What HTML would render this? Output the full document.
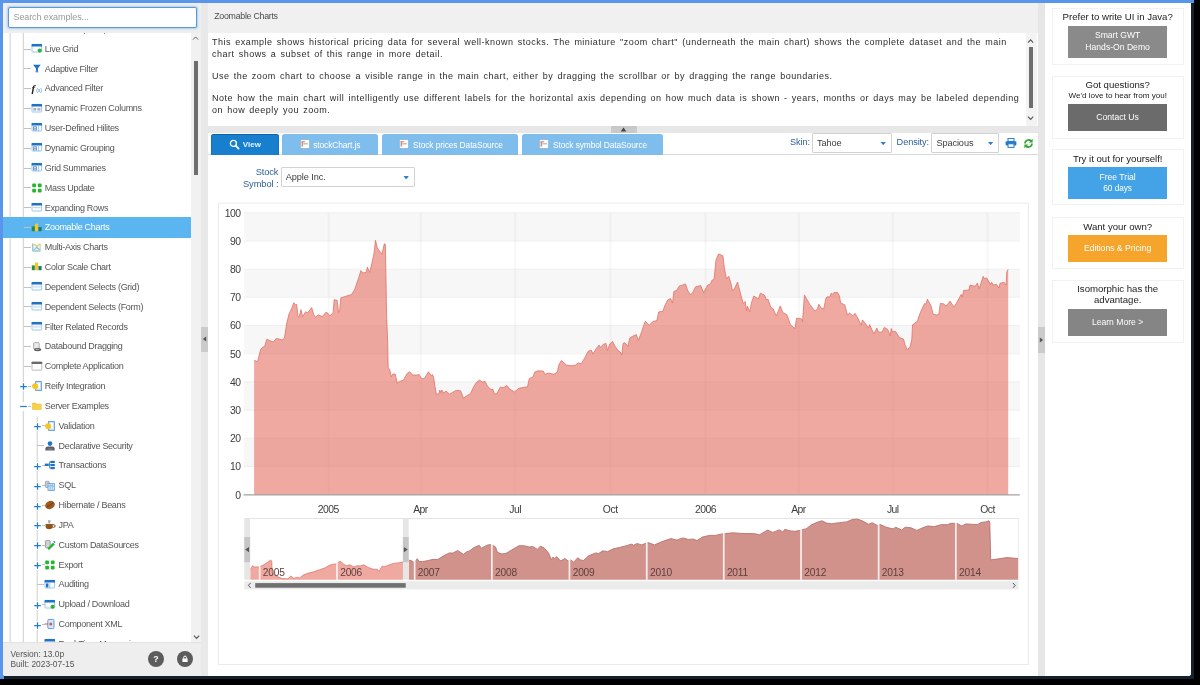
<!DOCTYPE html>
<html><head><meta charset="utf-8"><title>Zoomable Charts</title>
<style>
*{box-sizing:border-box;margin:0;padding:0}
html,body{width:1200px;height:685px;overflow:hidden;background:#000;font-family:"Liberation Sans",sans-serif;}
#frame{position:absolute;left:0;top:0;width:1200px;height:685px;background:#000;overflow:hidden}
#blue{position:absolute;left:0;top:0;width:1194px;height:679px;background:#5a95ec}
#navy{position:absolute;left:4px;top:3px;width:1190px;height:676px;background:#16212f}
#app{position:absolute;left:3px;top:3px;width:1188px;height:673px;background:#fff;overflow:hidden;border-radius:0 0 3px 3px;will-change:transform}
.abs{position:absolute}
/* left */
#left{position:absolute;left:0;top:0;width:198px;height:673px;background:#fff}
#searchbar{position:absolute;left:0;top:0;width:198px;height:29.5px;background:#efefef}
#search{position:absolute;left:5px;top:4px;width:188.5px;height:20.5px;background:#fff;border:1px solid #5b9bd3;border-radius:2px;box-shadow:0 0 2px 1px rgba(120,185,240,0.6);}
#search span{position:absolute;left:4.5px;top:4px;font-size:9px;color:#9a9a9a;letter-spacing:-0.1px}
#tree{position:absolute;left:0;top:29.5px;width:188px;height:609.3px;overflow:hidden;background:#fff}
.vl{position:absolute;width:1px;background:#cfcfcf}
.hl{position:absolute;height:1px;background:#c2c2c2}
.sel{position:absolute;left:0;width:188px;height:20.4px;background:#5bb5f0}
.op{position:absolute;background:#fff}
.ic{position:absolute}
.tl{position:absolute;font-size:9px;line-height:12px;color:#555;white-space:nowrap;letter-spacing:-0.3px}
.tl.w{color:#fff}
#tsb{position:absolute;left:188px;top:29.5px;width:10px;height:610px;background:#f1f1f1}
#tthumb{position:absolute;left:3.1px;top:28.5px;width:4.2px;height:114px;background:#6e6e6e}
#lfoot{position:absolute;left:0;top:638.8px;width:198px;height:34.2px;background:#eeeeee;border-top:1px solid #e2e2e2}
#lfoot .v{position:absolute;left:7.5px;font-size:8.4px;color:#555;white-space:nowrap}
.circ{position:absolute;width:16px;height:16px;border-radius:8px;background:#5c5c5c}
/* splitters */
#sp1{position:absolute;left:198px;top:0;width:7px;height:673px;background:#e9e9e9}
#sp2{position:absolute;left:1035px;top:0;width:7px;height:673px;background:#e6e6e6}
/* middle */
#mid{position:absolute;left:205px;top:0;width:830px;height:673px;background:#fff}
#mhead{position:absolute;left:0;top:0;width:830px;height:29.5px;background:#f0f0f0}
#mhead span{position:absolute;left:6.2px;top:8px;font-size:8.8px;color:#4a4a4a;white-space:nowrap;letter-spacing:-0.26px}
#desc{position:absolute;left:0;top:29.5px;width:830px;height:94px;background:#fff;color:#2c2c2c;font-size:9px;letter-spacing:0.49px;word-spacing:1.2px;line-height:12.7px;white-space:nowrap}
#desc p{position:absolute;left:4px}
#hsp{position:absolute;left:0;top:123px;width:830px;height:6.5px;background:#e7e7e7}
#hgrip{position:absolute;left:402.6px;top:0;width:26px;height:6.5px;background:#c9c9c9}
.tab{position:absolute;top:131px;height:20.6px;border-radius:2.5px 2.5px 0 0;color:#fff;font-size:8.4px;white-space:nowrap}
.tab span{position:absolute;top:5.6px;letter-spacing:-0.1px}
#tabline{position:absolute;left:0;top:151.3px;width:830px;height:1px;background:#d9d9d9}
.lbl{position:absolute;font-size:9.2px;color:#2c5f9a;white-space:nowrap;letter-spacing:-0.1px}
.selbox{position:absolute;height:19.4px;border:1px solid #d2d2d2;background:#fff;border-radius:1px}
.selbox span{position:absolute;left:4px;top:4px;font-size:9.2px;color:#3c3c3c;white-space:nowrap;letter-spacing:-0.1px}
.selbox i{position:absolute;right:4.6px;top:7.5px;width:5.6px;height:3.6px;background:#2a7fd0;clip-path:polygon(0 0,100% 0,50% 100%)}
/* right */
#right{position:absolute;left:1042px;top:0;width:146px;height:673px;background:#fff}
.card{position:absolute;left:6.5px;width:132.4px;border:1px solid #f1f1f1;background:#fff}
.card .t{position:absolute;left:0;width:100%;text-align:center;color:#222;font-size:9.65px;white-space:nowrap;letter-spacing:-0.02px}
.card .s{position:absolute;left:0;width:100%;text-align:center;color:#222;font-size:8.1px;white-space:nowrap}
.btn{position:absolute;left:15.6px;width:99px;color:#fff;font-size:8.6px;text-align:center;white-space:nowrap}
.btn span{position:absolute;left:0;width:100%;text-align:center}
svg.chart{position:absolute;left:-3px;top:-3px}
.ax{font-family:"Liberation Sans",sans-serif;font-size:10.4px;fill:#3c3c3c;letter-spacing:-0.5px}
.mx{font-family:"Liberation Sans",sans-serif;font-size:10.2px;fill:#5b3f3c;letter-spacing:-0.2px}
</style></head><body>
<div id="frame"><div id="blue"></div><div id="navy"></div>
<div id="app">
 <div id="left">
  <div id="searchbar"><div id="search"><span>Search examples...</span></div></div>
  <div id="tree">
   <svg class="abs" style="left:0;top:0" width="60" height="610" viewBox="0 0 60 610"><path d="M7.1 0V610M20.3 0V610M34.2 383.5V610" stroke="#cdcdcd" stroke-width="1" fill="none"/></svg>
<div class="hl" style="left:20.5px;top:-3.84px;width:7.2px"></div>
<svg class="ic" style="left:27.7px;top:-10.24px" width="12" height="12" viewBox="0 0 12 12"><rect x="1" y="2.4" width="9.6" height="7.6" rx="0.6" fill="#fff" stroke="#8fc0ea" stroke-width="0.9"/><rect x="0.6" y="1.9" width="10.4" height="2.7" rx="0.5" fill="#1f72c8"/><rect x="2.3" y="6" width="3" height="2.6" fill="#a9b4c0"/><rect x="6.4" y="6" width="3" height="2.6" fill="#a9b4c0"/></svg>
<div class="tl" style="left:41.8px;top:-9.54px"></div>
<div class="hl" style="left:20.5px;top:16.00px;width:7.2px"></div>
<svg class="ic" style="left:27.7px;top:9.60px" width="12" height="12" viewBox="0 0 12 12"><rect x="1" y="2.4" width="9.6" height="7.6" rx="0.6" fill="#fff" stroke="#8fc0ea" stroke-width="0.9"/><rect x="0.6" y="1.9" width="10.4" height="2.7" rx="0.5" fill="#1f72c8"/><circle cx="8.6" cy="8.6" r="2" fill="#27b52f"/></svg>
<div class="tl" style="left:41.8px;top:10.30px">Live Grid</div>
<div class="hl" style="left:20.5px;top:35.84px;width:7.2px"></div>
<svg class="ic" style="left:27.7px;top:29.44px" width="12" height="12" viewBox="0 0 12 12"><path d="M2 2.8H9.8L6.9 6.2V9.4L4.9 8.6V6.2Z" fill="#1f72c8"/><rect x="4.6" y="9.2" width="2.6" height="1.1" fill="#1f72c8"/></svg>
<div class="tl" style="left:41.8px;top:30.14px">Adaptive Filter</div>
<div class="hl" style="left:20.5px;top:55.68px;width:7.2px"></div>
<svg class="ic" style="left:27.7px;top:49.28px" width="12" height="12" viewBox="0 0 12 12"><text x="0.6" y="9.6" font-family="Liberation Serif" font-style="italic" font-weight="bold" font-size="11" fill="#222">f</text><text x="5.2" y="9.8" font-family="Liberation Sans" font-size="5" fill="#2f7fd0">(x)</text></svg>
<div class="tl" style="left:41.8px;top:49.98px">Advanced Filter</div>
<div class="hl" style="left:20.5px;top:75.52px;width:7.2px"></div>
<svg class="ic" style="left:27.7px;top:69.12px" width="12" height="12" viewBox="0 0 12 12"><rect x="1" y="2.4" width="9.6" height="7.6" rx="0.6" fill="#fff" stroke="#8fc0ea" stroke-width="0.9"/><rect x="0.6" y="1.9" width="10.4" height="2.7" rx="0.5" fill="#1f72c8"/><rect x="2.3" y="6" width="3" height="2.6" fill="#a9b4c0"/><rect x="6.4" y="6" width="3" height="2.6" fill="#a9b4c0"/></svg>
<div class="tl" style="left:41.8px;top:69.82px">Dynamic Frozen Columns</div>
<div class="hl" style="left:20.5px;top:95.36px;width:7.2px"></div>
<svg class="ic" style="left:27.7px;top:88.96px" width="12" height="12" viewBox="0 0 12 12"><rect x="1" y="2.4" width="9.6" height="7.6" rx="0.6" fill="#fff" stroke="#8fc0ea" stroke-width="0.9"/><rect x="0.6" y="1.9" width="10.4" height="2.7" rx="0.5" fill="#1f72c8"/><rect x="2.4" y="5.8" width="3.2" height="3.2" fill="none" stroke="#5f87b5" stroke-width="0.8"/><rect x="3.4" y="6.8" width="1.3" height="1.3" fill="#5f87b5"/><rect x="7.2" y="4.3" width="0.9" height="6" fill="#8fc0ea"/></svg>
<div class="tl" style="left:41.8px;top:89.66px">User-Defined Hilites</div>
<div class="hl" style="left:20.5px;top:115.20px;width:7.2px"></div>
<svg class="ic" style="left:27.7px;top:108.80px" width="12" height="12" viewBox="0 0 12 12"><rect x="1" y="2.4" width="9.6" height="7.6" rx="0.6" fill="#fff" stroke="#8fc0ea" stroke-width="0.9"/><rect x="0.6" y="1.9" width="10.4" height="2.7" rx="0.5" fill="#1f72c8"/><rect x="2.4" y="5.8" width="3.2" height="3.2" fill="none" stroke="#5f87b5" stroke-width="0.8"/><rect x="3.4" y="6.8" width="1.3" height="1.3" fill="#5f87b5"/><rect x="7.2" y="4.3" width="0.9" height="6" fill="#8fc0ea"/></svg>
<div class="tl" style="left:41.8px;top:109.50px">Dynamic Grouping</div>
<div class="hl" style="left:20.5px;top:135.04px;width:7.2px"></div>
<svg class="ic" style="left:27.7px;top:128.64px" width="12" height="12" viewBox="0 0 12 12"><rect x="1" y="2.4" width="9.6" height="7.6" rx="0.6" fill="#fff" stroke="#8fc0ea" stroke-width="0.9"/><rect x="0.6" y="1.9" width="10.4" height="2.7" rx="0.5" fill="#1f72c8"/><rect x="2.4" y="5.8" width="3.2" height="3.2" fill="none" stroke="#5f87b5" stroke-width="0.8"/><rect x="3.4" y="6.8" width="1.3" height="1.3" fill="#5f87b5"/><rect x="7.2" y="4.3" width="0.9" height="6" fill="#8fc0ea"/></svg>
<div class="tl" style="left:41.8px;top:129.34px">Grid Summaries</div>
<div class="hl" style="left:20.5px;top:154.88px;width:7.2px"></div>
<svg class="ic" style="left:27.7px;top:149.08px" width="12" height="12" viewBox="0 0 12 12"><rect x="1.2" y="1.6" width="3.8" height="3.6" rx="1" fill="#27b52f"/><rect x="6.8" y="1.6" width="3.8" height="3.6" rx="1" fill="#27b52f"/><rect x="1.2" y="6.8" width="3.8" height="3.6" rx="1" fill="#27b52f"/><rect x="6.8" y="6.8" width="3.8" height="3.6" rx="1" fill="#27b52f"/></svg>
<div class="tl" style="left:41.8px;top:149.18px">Mass Update</div>
<div class="hl" style="left:20.5px;top:174.72px;width:7.2px"></div>
<svg class="ic" style="left:27.7px;top:168.32px" width="12" height="12" viewBox="0 0 12 12"><rect x="1" y="2.4" width="9.6" height="7.6" rx="0.6" fill="#fff" stroke="#8fc0ea" stroke-width="0.9"/><rect x="0.6" y="1.9" width="10.4" height="2.7" rx="0.5" fill="#1f72c8"/><rect x="2.2" y="6" width="7.4" height="1.2" fill="#c9d6e4"/></svg>
<div class="tl" style="left:41.8px;top:169.02px">Expanding Rows</div>
<div class="sel" style="top:184.84px"></div>
<div class="hl" style="left:20.5px;top:194.56px;width:7.2px"></div>
<svg class="ic" style="left:27.7px;top:188.16px" width="12" height="12" viewBox="0 0 12 12"><rect x="0.8" y="5.4" width="3" height="4.8" fill="#2a8a4a"/><rect x="4" y="2.6" width="3.2" height="7.6" fill="#f0c92c"/><rect x="7.4" y="6" width="3.2" height="4.2" fill="#1d7a6b"/></svg>
<div class="tl w" style="left:41.8px;top:188.86px">Zoomable Charts</div>
<div class="hl" style="left:20.5px;top:214.40px;width:7.2px"></div>
<svg class="ic" style="left:27.7px;top:208.00px" width="12" height="12" viewBox="0 0 12 12"><rect x="1.4" y="2.4" width="8.2" height="8" fill="#f4f8f4"/><path d="M1.8 2.4V10H9.6" fill="none" stroke="#6fb0c4" stroke-width="1"/><path d="M3 3.4L6 5.4L8.8 3" fill="none" stroke="#e6d05c" stroke-width="1.3"/><path d="M3.2 8.6L5.6 6.4L8.8 8.8" fill="none" stroke="#8db7e6" stroke-width="1.2"/><path d="M9.2 3V9.6" stroke="#b9c9a0" stroke-width="0.9"/></svg>
<div class="tl" style="left:41.8px;top:208.70px">Multi-Axis Charts</div>
<div class="hl" style="left:20.5px;top:234.24px;width:7.2px"></div>
<svg class="ic" style="left:27.7px;top:227.84px" width="12" height="12" viewBox="0 0 12 12"><rect x="0.8" y="5.4" width="3" height="4.8" fill="#2a8a4a"/><rect x="4" y="2.6" width="3.2" height="7.6" fill="#f0c92c"/><rect x="7.4" y="6" width="3.2" height="4.2" fill="#1d7a6b"/></svg>
<div class="tl" style="left:41.8px;top:228.54px">Color Scale Chart</div>
<div class="hl" style="left:20.5px;top:254.08px;width:7.2px"></div>
<svg class="ic" style="left:27.7px;top:247.68px" width="12" height="12" viewBox="0 0 12 12"><rect x="1" y="2.4" width="9.6" height="7.6" rx="0.6" fill="#fff" stroke="#8fc0ea" stroke-width="0.9"/><rect x="0.6" y="1.9" width="10.4" height="2.7" rx="0.5" fill="#1f72c8"/><rect x="1.5" y="5.6" width="8.8" height="2.2" fill="#dfe6ee"/></svg>
<div class="tl" style="left:41.8px;top:248.38px">Dependent Selects (Grid)</div>
<div class="hl" style="left:20.5px;top:273.92px;width:7.2px"></div>
<svg class="ic" style="left:27.7px;top:267.52px" width="12" height="12" viewBox="0 0 12 12"><rect x="1" y="2.4" width="9.6" height="7.6" rx="0.6" fill="#fff" stroke="#8fc0ea" stroke-width="0.9"/><rect x="0.6" y="1.9" width="10.4" height="2.7" rx="0.5" fill="#1f72c8"/><rect x="1.5" y="5.6" width="8.8" height="2.2" fill="#dfe6ee"/></svg>
<div class="tl" style="left:41.8px;top:268.22px">Dependent Selects (Form)</div>
<div class="hl" style="left:20.5px;top:293.76px;width:7.2px"></div>
<svg class="ic" style="left:27.7px;top:287.36px" width="12" height="12" viewBox="0 0 12 12"><rect x="1" y="2.4" width="9.6" height="7.6" rx="0.6" fill="#fff" stroke="#8fc0ea" stroke-width="0.9"/><rect x="0.6" y="1.9" width="10.4" height="2.7" rx="0.5" fill="#1f72c8"/><rect x="1.5" y="5.6" width="8.8" height="2.2" fill="#dfe6ee"/></svg>
<div class="tl" style="left:41.8px;top:288.06px">Filter Related Records</div>
<div class="hl" style="left:20.5px;top:313.60px;width:7.2px"></div>
<svg class="ic" style="left:27.7px;top:308.20px" width="12" height="12" viewBox="0 0 12 12"><rect x="2.6" y="1.6" width="5.6" height="6.4" rx="0.8" fill="#e9e9e9" stroke="#9a9a9a" stroke-width="0.8"/><ellipse cx="6.6" cy="8.6" rx="3.6" ry="1.7" fill="#5a5a5a"/><rect x="4.8" y="8" width="3" height="0.9" fill="#bbb"/></svg>
<div class="tl" style="left:41.8px;top:307.90px">Databound Dragging</div>
<div class="hl" style="left:20.5px;top:333.44px;width:7.2px"></div>
<svg class="ic" style="left:27.7px;top:327.04px" width="12" height="12" viewBox="0 0 12 12"><rect x="1" y="2.2" width="9.8" height="8" rx="0.6" fill="#fff" stroke="#b5b5b5" stroke-width="0.9"/><rect x="0.6" y="1.7" width="10.6" height="2.4" rx="0.5" fill="#6a6a6a"/></svg>
<div class="tl" style="left:41.8px;top:327.74px">Complete Application</div>
<div class="hl" style="left:20.5px;top:353.28px;width:7.7px"></div>
<svg class="op" style="left:16.0px;top:349.98px" width="9" height="9" viewBox="0 0 9 9"><path d="M1.2 4.5H7.8M4.5 1.2V7.8" stroke="#1f7fd6" stroke-width="1.25" fill="none"/></svg>
<svg class="ic" style="left:27.7px;top:347.88px" width="12" height="12" viewBox="0 0 12 12"><rect x="4.6" y="1.6" width="5.8" height="8.8" fill="#cfe2f6" stroke="#5a9ade" stroke-width="0.9"/><rect x="6.4" y="3" width="2.6" height="5.6" fill="#fff"/><path d="M4 3.2L6.8 4.4L7.4 7.2L5 9.4L2 8.6L0.8 6L2 3.8Z" fill="#f6c71e"/></svg>
<div class="tl" style="left:41.8px;top:347.58px">Reify Integration</div>
<div class="hl" style="left:20.5px;top:373.12px;width:7.7px"></div>
<svg class="op" style="left:16.0px;top:369.82px" width="9" height="9" viewBox="0 0 9 9"><path d="M1.2 4.5H7.8" stroke="#1f7fd6" stroke-width="1.25" fill="none"/></svg>
<svg class="ic" style="left:27.7px;top:367.72px" width="12" height="12" viewBox="0 0 12 12"><path d="M1.2 2.8H4.6L5.6 3.8H10.4V9.8H1.2Z" fill="#f3c63c"/><rect x="1.2" y="4.4" width="9.2" height="5.4" fill="#f7d04f"/></svg>
<div class="tl" style="left:41.8px;top:367.42px">Server Examples</div>
<div class="hl" style="left:34.0px;top:392.96px;width:7.6px"></div>
<svg class="op" style="left:29.5px;top:389.66px" width="9" height="9" viewBox="0 0 9 9"><path d="M1.2 4.5H7.8M4.5 1.2V7.8" stroke="#1f7fd6" stroke-width="1.25" fill="none"/></svg>
<svg class="ic" style="left:41.1px;top:387.56px" width="12" height="12" viewBox="0 0 12 12"><rect x="4.6" y="1.6" width="5.8" height="8.8" fill="#cfe2f6" stroke="#5a9ade" stroke-width="0.9"/><rect x="6.4" y="3" width="2.6" height="5.6" fill="#fff"/><path d="M4 3.2L6.8 4.4L7.4 7.2L5 9.4L2 8.6L0.8 6L2 3.8Z" fill="#f6c71e"/></svg>
<div class="tl" style="left:55.5px;top:387.26px">Validation</div>
<div class="hl" style="left:34.0px;top:412.80px;width:7.1px"></div>
<svg class="ic" style="left:41.1px;top:407.40px" width="12" height="12" viewBox="0 0 12 12"><circle cx="6" cy="3.6" r="2.3" fill="#1f72c8"/><path d="M1.4 10.4V8.4Q1.4 6.4 4 6.4H8Q10.6 6.4 10.6 8.4V10.4Z" fill="#5c5c66"/><rect x="3.4" y="8.6" width="5.2" height="0.9" fill="#8c8c96"/></svg>
<div class="tl" style="left:55.5px;top:407.10px">Declarative Security</div>
<div class="hl" style="left:34.0px;top:432.64px;width:7.6px"></div>
<svg class="op" style="left:29.5px;top:429.34px" width="9" height="9" viewBox="0 0 9 9"><path d="M1.2 4.5H7.8M4.5 1.2V7.8" stroke="#1f7fd6" stroke-width="1.25" fill="none"/></svg>
<svg class="ic" style="left:41.1px;top:426.24px" width="12" height="12" viewBox="0 0 12 12"><rect x="0.8" y="4.6" width="4" height="2.4" fill="#1f72c8"/><rect x="6.4" y="1.8" width="4.4" height="2.2" fill="#1f72c8"/><rect x="6.4" y="4.9" width="4.4" height="2.2" fill="#1f72c8"/><rect x="6.4" y="8" width="4.4" height="2.2" fill="#1f72c8"/><path d="M4.8 5.8H6.4M5.6 2.9V9.1M5.6 2.9H6.4M5.6 9.1H6.4" stroke="#1f72c8" stroke-width="0.8" fill="none"/></svg>
<div class="tl" style="left:55.5px;top:426.94px">Transactions</div>
<div class="hl" style="left:34.0px;top:452.48px;width:7.6px"></div>
<svg class="op" style="left:29.5px;top:449.18px" width="9" height="9" viewBox="0 0 9 9"><path d="M1.2 4.5H7.8M4.5 1.2V7.8" stroke="#1f7fd6" stroke-width="1.25" fill="none"/></svg>
<svg class="ic" style="left:41.1px;top:447.08px" width="12" height="12" viewBox="0 0 12 12"><rect x="1.4" y="1.4" width="3.8" height="6" rx="0.8" fill="#c9ced6" stroke="#8d96a3" stroke-width="0.8"/><rect x="4" y="3.6" width="6.4" height="6.8" fill="#d6e8f8" stroke="#6aa5de" stroke-width="0.9"/><path d="M6.2 3.6V10.4M8.3 3.6V10.4M4 6H10.4" stroke="#6aa5de" stroke-width="0.6"/></svg>
<div class="tl" style="left:55.5px;top:446.78px">SQL</div>
<div class="hl" style="left:34.0px;top:472.32px;width:7.6px"></div>
<svg class="op" style="left:29.5px;top:469.02px" width="9" height="9" viewBox="0 0 9 9"><path d="M1.2 4.5H7.8M4.5 1.2V7.8" stroke="#1f7fd6" stroke-width="1.25" fill="none"/></svg>
<svg class="ic" style="left:41.1px;top:466.92px" width="12" height="12" viewBox="0 0 12 12"><ellipse cx="6" cy="6" rx="5" ry="3.9" transform="rotate(-25 6 6)" fill="#9b5a1e"/><path d="M2.6 8.2Q6 6.4 9.4 3.6" stroke="#6d3a0c" stroke-width="0.9" fill="none"/></svg>
<div class="tl" style="left:55.5px;top:466.62px">Hibernate / Beans</div>
<div class="hl" style="left:34.0px;top:492.16px;width:7.6px"></div>
<svg class="op" style="left:29.5px;top:488.86px" width="9" height="9" viewBox="0 0 9 9"><path d="M1.2 4.5H7.8M4.5 1.2V7.8" stroke="#1f7fd6" stroke-width="1.25" fill="none"/></svg>
<svg class="ic" style="left:41.1px;top:486.76px" width="12" height="12" viewBox="0 0 12 12"><path d="M1.6 5H8.8V7.6Q8.8 10.2 5.2 10.2Q1.6 10.2 1.6 7.6Z" fill="#8f5417"/><path d="M8.8 5.8H10Q11.2 5.8 11.2 7Q11.2 8.4 9.4 8.4H8.6" fill="none" stroke="#8f5417" stroke-width="1"/><path d="M4 1.6H6.6V2.6H4ZM4.4 3.2H6.2V4.2H4.4Z" fill="#777"/></svg>
<div class="tl" style="left:55.5px;top:486.46px">JPA</div>
<div class="hl" style="left:34.0px;top:512.00px;width:7.6px"></div>
<svg class="op" style="left:29.5px;top:508.70px" width="9" height="9" viewBox="0 0 9 9"><path d="M1.2 4.5H7.8M4.5 1.2V7.8" stroke="#1f7fd6" stroke-width="1.25" fill="none"/></svg>
<svg class="ic" style="left:41.1px;top:506.60px" width="12" height="12" viewBox="0 0 12 12"><rect x="1.4" y="1.4" width="4.8" height="7.4" rx="1" fill="#cfd3d8" stroke="#868d96" stroke-width="0.8"/><path d="M3.4 9.6L9 3.6L10.8 5.4L5 11Z" fill="#27b52f"/><path d="M9.2 2.6L10.6 1.8L11.4 3.4L10.6 4.2Z" fill="#3b7fd0"/></svg>
<div class="tl" style="left:55.5px;top:506.30px">Custom DataSources</div>
<div class="hl" style="left:34.0px;top:531.84px;width:7.6px"></div>
<svg class="op" style="left:29.5px;top:528.54px" width="9" height="9" viewBox="0 0 9 9"><path d="M1.2 4.5H7.8M4.5 1.2V7.8" stroke="#1f7fd6" stroke-width="1.25" fill="none"/></svg>
<svg class="ic" style="left:41.1px;top:526.04px" width="12" height="12" viewBox="0 0 12 12"><rect x="1.2" y="1.6" width="3.8" height="3.6" rx="1" fill="#27b52f"/><rect x="6.8" y="1.6" width="3.8" height="3.6" rx="1" fill="#27b52f"/><rect x="1.2" y="6.8" width="3.8" height="3.6" rx="1" fill="#27b52f"/><rect x="6.8" y="6.8" width="3.8" height="3.6" rx="1" fill="#27b52f"/></svg>
<div class="tl" style="left:55.5px;top:526.14px">Export</div>
<div class="hl" style="left:34.0px;top:551.68px;width:7.1px"></div>
<svg class="ic" style="left:41.1px;top:545.28px" width="12" height="12" viewBox="0 0 12 12"><rect x="1" y="2.4" width="9.6" height="7.6" rx="0.6" fill="#fff" stroke="#8fc0ea" stroke-width="0.9"/><rect x="0.6" y="1.9" width="10.4" height="2.7" rx="0.5" fill="#1f72c8"/><rect x="2" y="5.4" width="2.4" height="4" fill="#1f72c8"/><rect x="5.4" y="4.3" width="0.8" height="6" fill="#8fc0ea"/></svg>
<div class="tl" style="left:55.5px;top:545.98px">Auditing</div>
<div class="hl" style="left:34.0px;top:571.52px;width:7.6px"></div>
<svg class="op" style="left:29.5px;top:568.22px" width="9" height="9" viewBox="0 0 9 9"><path d="M1.2 4.5H7.8M4.5 1.2V7.8" stroke="#1f7fd6" stroke-width="1.25" fill="none"/></svg>
<svg class="ic" style="left:41.1px;top:565.12px" width="12" height="12" viewBox="0 0 12 12"><rect x="1" y="2.4" width="9.6" height="7.6" rx="0.6" fill="#fff" stroke="#8fc0ea" stroke-width="0.9"/><rect x="0.6" y="1.9" width="10.4" height="2.7" rx="0.5" fill="#1f72c8"/><circle cx="8.6" cy="8.8" r="2" fill="#27b52f"/></svg>
<div class="tl" style="left:55.5px;top:565.82px">Upload / Download</div>
<div class="hl" style="left:34.0px;top:591.36px;width:7.6px"></div>
<svg class="op" style="left:29.5px;top:588.06px" width="9" height="9" viewBox="0 0 9 9"><path d="M1.2 4.5H7.8M4.5 1.2V7.8" stroke="#1f7fd6" stroke-width="1.25" fill="none"/></svg>
<svg class="ic" style="left:41.1px;top:585.96px" width="12" height="12" viewBox="0 0 12 12"><rect x="3.8" y="1.4" width="6.2" height="9.2" rx="1.2" fill="#d8e8f8" stroke="#4d93dc" stroke-width="0.9"/><circle cx="6.8" cy="6" r="1.5" fill="#e0524a"/><path d="M0.6 6H4" stroke="#e0524a" stroke-width="1"/></svg>
<div class="tl" style="left:55.5px;top:585.66px">Component XML</div>
<div class="hl" style="left:34.0px;top:611.20px;width:7.1px"></div>
<svg class="ic" style="left:41.1px;top:604.80px" width="12" height="12" viewBox="0 0 12 12"><rect x="1" y="2.4" width="9.6" height="7.6" rx="0.6" fill="#fff" stroke="#8fc0ea" stroke-width="0.9"/><rect x="0.6" y="1.9" width="10.4" height="2.7" rx="0.5" fill="#1f72c8"/><rect x="1.5" y="5.6" width="8.8" height="2.2" fill="#dfe6ee"/></svg>
<div class="tl" style="left:55.5px;top:605.50px">Real-Time Messaging</div>
   <div class="abs" style="left:81.2px;top:0;width:1.3px;height:1.1px;background:#888"></div>
   <div class="abs" style="left:101px;top:0;width:1.3px;height:1.1px;background:#888"></div>
  </div>
  <div id="tsb"><div id="tthumb"></div>
   <svg class="abs" style="left:1px;top:2.2px" width="8" height="6" viewBox="0 0 8 6"><path d="M1 4.6L3.6 1.9L6.2 4.6" fill="none" stroke="#666" stroke-width="1"/></svg>
   <svg class="abs" style="left:1.5px;top:601.5px" width="8" height="6" viewBox="0 0 8 6"><path d="M1 1.6L3.6 4.4L6.2 1.6" fill="none" stroke="#555" stroke-width="1.1"/></svg>
  </div>
  <div id="lfoot">
   <div class="v" style="top:6.2px">Version: 13.0p</div>
   <div class="v" style="top:16.6px">Built: 2023-07-15</div>
   <div class="circ" style="left:145.1px;top:8.2px"><svg width="16" height="16" viewBox="0 0 16 16"><text x="8" y="11.2" text-anchor="middle" font-family="Liberation Sans" font-weight="bold" font-size="8.8" fill="#fff">?</text></svg></div>
   <div class="circ" style="left:173.5px;top:8.2px"><svg width="16" height="16" viewBox="0 0 16 16"><rect x="5.4" y="7.4" width="5.2" height="3.6" fill="#fff"/><path d="M6.6 7.5V6.5A1.4 1.4 0 0 1 9.4 6.5V7.5" fill="none" stroke="#fff" stroke-width="1"/></svg></div>
  </div>
 </div>
 <div id="sp1">
   <div class="abs" style="left:0;top:323.6px;width:7.4px;height:25.4px;background:#cbcbcb"></div>
   <svg class="abs" style="left:0;top:325.2px" width="7" height="22" viewBox="0 0 7 22"><path d="M1.8 11L5.2 8.6V13.4Z" fill="#555"/></svg>
 </div>
 <div id="mid">
  <div id="mhead"><span>Zoomable Charts</span></div>
  <div id="desc">
   <p style="top:3.2px">This example shows historical pricing data for several well-known stocks. The miniature "zoom chart" (underneath the main chart) shows the complete dataset and the main<br>chart shows a subset of this range in more detail.</p>
   <p style="top:37.4px">Use the zoom chart to choose a visible range in the main chart, either by dragging the scrollbar or by dragging the range boundaries.</p>
   <p style="top:59.2px">Note how the main chart will intelligently use different labels for the horizontal axis depending on how much data is shown - years, months or days may be labeled depending<br>on how deeply you zoom.</p>
   <div class="abs" style="left:817.6px;top:0;width:11px;height:94px;background:#f3f3f3"></div>
   <div class="abs" style="left:820.8px;top:14.5px;width:4px;height:61px;background:#6e6e6e"></div>
   <svg class="abs" style="left:819.2px;top:5.5px" width="8" height="6" viewBox="0 0 8 6"><path d="M1 4.6L3.6 1.8L6.2 4.6" fill="none" stroke="#555" stroke-width="1.1"/></svg>
   <svg class="abs" style="left:819.2px;top:82.4px" width="8" height="6" viewBox="0 0 8 6"><path d="M1 1.6L3.6 4.4L6.2 1.6" fill="none" stroke="#555" stroke-width="1.1"/></svg>
  </div>
  <div id="hsp"><div id="hgrip"><svg class="abs" style="left:9.5px;top:0.8px" width="7" height="5" viewBox="0 0 7 5"><path d="M3.5 0.6L6.3 4.4H0.7Z" fill="#444"/></svg></div></div>
  <div id="tabline"></div>
  <div class="tab" style="left:3.4px;width:67.2px;background:#187fcf;box-shadow:inset 0 0.6px 0 0.4px rgba(0,50,110,0.35)"><svg class="abs" style="left:17.5px;top:5.2px" width="11" height="11" viewBox="0 0 11 11"><circle cx="4.4" cy="4.4" r="3" fill="none" stroke="#fff" stroke-width="1.3"/><path d="M6.7 6.7L9.6 9.6" stroke="#fff" stroke-width="1.7" stroke-linecap="round"/></svg><span style="left:31.4px;top:5.8px;font-size:8px;font-weight:bold;color:#e6f2ff;letter-spacing:0">View</span></div>
  <div class="tab" style="left:74px;width:96.2px;background:#7fbdec"><svg class="abs" style="left:17.6px;top:5.3px" width="10" height="10" viewBox="0 0 10 10"><rect x="0.4" y="0.4" width="9.2" height="9.2" rx="0.6" fill="#fff" stroke="#6f9fcb" stroke-width="0.6"/><rect x="1.6" y="2.2" width="1.5" height="5.4" fill="#d08a7e"/><rect x="1.6" y="2.2" width="3.6" height="1.1" fill="#d08a7e"/><rect x="3.4" y="4.4" width="4.6" height="0.9" fill="#9a9a9a"/></svg><span style="left:31.2px">stockChart.js</span></div>
  <div class="tab" style="left:173.6px;width:136.4px;background:#7fbdec"><svg class="abs" style="left:17.6px;top:5.3px" width="10" height="10" viewBox="0 0 10 10"><rect x="0.4" y="0.4" width="9.2" height="9.2" rx="0.6" fill="#fff" stroke="#6f9fcb" stroke-width="0.6"/><rect x="1.6" y="2.2" width="1.5" height="5.4" fill="#d08a7e"/><rect x="1.6" y="2.2" width="3.6" height="1.1" fill="#d08a7e"/><rect x="3.4" y="4.4" width="4.6" height="0.9" fill="#9a9a9a"/></svg><span style="left:31.4px">Stock prices DataSource</span></div>
  <div class="tab" style="left:313.6px;width:141.8px;background:#7fbdec"><svg class="abs" style="left:17.2px;top:5.3px" width="10" height="10" viewBox="0 0 10 10"><rect x="0.4" y="0.4" width="9.2" height="9.2" rx="0.6" fill="#fff" stroke="#6f9fcb" stroke-width="0.6"/><rect x="1.6" y="2.2" width="1.5" height="5.4" fill="#d08a7e"/><rect x="1.6" y="2.2" width="3.6" height="1.1" fill="#d08a7e"/><rect x="3.4" y="4.4" width="4.6" height="0.9" fill="#9a9a9a"/></svg><span style="left:31.4px">Stock symbol DataSource</span></div>
  <div class="lbl" style="left:582px;top:134px">Skin:</div>
  <div class="selbox" style="left:604px;top:130.2px;width:79.6px"><span>Tahoe</span><i></i></div>
  <div class="lbl" style="left:688.6px;top:134px">Density:</div>
  <div class="selbox" style="left:723.4px;top:130.2px;width:67.6px"><span>Spacious</span><i></i></div>
  <svg class="abs" style="left:796.5px;top:135.2px" width="12" height="10" viewBox="0 0 12 10"><rect x="3" y="0.4" width="6" height="3" fill="none" stroke="#2478cf" stroke-width="1"/><rect x="0.6" y="3.2" width="10.8" height="4.2" rx="1" fill="#2478cf"/><rect x="3" y="5.8" width="6" height="3.6" fill="#fff" stroke="#2478cf" stroke-width="1"/></svg>
  <svg class="abs" style="left:814.5px;top:134.6px" width="11" height="11" viewBox="0 0 11 11"><path d="M2 5.5A3.5 3.5 0 0 1 8 3" fill="none" stroke="#2ea52e" stroke-width="1.8"/><path d="M9.6 0.8V4.6H5.8Z" fill="#2ea52e"/><path d="M9 5.5A3.5 3.5 0 0 1 3 8" fill="none" stroke="#2ea52e" stroke-width="1.8"/><path d="M1.4 10.2V6.4H5.2Z" fill="#2ea52e"/></svg>
  <div class="lbl" style="left:26.4px;top:164px;width:44px;text-align:right;line-height:11.6px;font-size:9.3px">Stock<br>Symbol :</div>
  <div class="selbox" style="left:72.8px;top:164.3px;width:133.8px;height:19.7px"><span style="top:3.9px">Apple Inc.</span><i></i></div>
 </div>
 <div id="sp2">
   <div class="abs" style="left:0;top:324.4px;width:7.4px;height:25.4px;background:#cbcbcb"></div>
   <svg class="abs" style="left:0;top:326px" width="7" height="22" viewBox="0 0 7 22"><path d="M5.2 11L1.8 8.6V13.4Z" fill="#555"/></svg>
 </div>
 <div id="right">
  <div class="card" style="top:5px;height:56.5px"><div class="t" style="top:1.8px">Prefer to write UI in Java?</div>
    <div class="btn" style="top:16.5px;height:32px;background:#8a8a8a"><span style="top:4.5px">Smart GWT</span><span style="top:16.1px">Hands-On Demo</span></div></div>
  <div class="card" style="top:72.5px;height:63px"><div class="t" style="top:2.4px">Got questions?</div><div class="s" style="top:14.1px">We'd love to hear from you!</div>
    <div class="btn" style="top:27.2px;height:27.6px;background:#6b6b6b"><span style="top:8.2px">Contact Us</span></div></div>
  <div class="card" style="top:145.5px;height:56px"><div class="t" style="top:3.4px">Try it out for yourself!</div>
    <div class="btn" style="top:17.6px;height:31.6px;background:#43a3e6"><span style="top:5px">Free Trial</span><span style="top:16.6px;font-size:8.2px">60 days</span></div></div>
  <div class="card" style="top:213.5px;height:52px"><div class="t" style="top:3.2px">Want your own?</div>
    <div class="btn" style="top:17.2px;height:27.6px;background:#f5a52c"><span style="top:8.4px">Editions &amp; Pricing</span></div></div>
  <div class="card" style="top:276.5px;height:63.5px"><div class="t" style="top:3.5px;line-height:10.9px">Isomorphic has the<br>advantage.</div>
    <div class="btn" style="top:28.3px;height:27.6px;background:#858585"><span style="top:8.4px">Learn More &gt;</span></div></div>
 </div>
 <svg class="chart" width="1200" height="685" viewBox="0 0 1200 685">
<defs>
<clipPath id="selc"><rect x="250" y="518.5" width="153" height="62.299999999999955"/></clipPath>
<clipPath id="unsel"><rect x="408.7" y="518.5" width="609.7" height="62.299999999999955"/></clipPath>
</defs>
<rect x="218.4" y="203.1" width="810" height="461.4" fill="#fff" stroke="#eaeaea"/>
<rect x="244.0" y="212.8" width="775.8" height="28.2" fill="#f7f7f7"/><rect x="244.0" y="269.2" width="775.8" height="28.2" fill="#f7f7f7"/><rect x="244.0" y="325.5" width="775.8" height="28.2" fill="#f7f7f7"/><rect x="244.0" y="381.9" width="775.8" height="28.2" fill="#f7f7f7"/><rect x="244.0" y="438.2" width="775.8" height="28.2" fill="#f7f7f7"/>
<line x1="244.0" x2="1019.8" y1="466.4" y2="466.4" stroke="#f0f0f0" stroke-width="1.1"/><line x1="244.0" x2="1019.8" y1="438.2" y2="438.2" stroke="#f0f0f0" stroke-width="1.1"/><line x1="244.0" x2="1019.8" y1="410.1" y2="410.1" stroke="#f0f0f0" stroke-width="1.1"/><line x1="244.0" x2="1019.8" y1="381.9" y2="381.9" stroke="#f0f0f0" stroke-width="1.1"/><line x1="244.0" x2="1019.8" y1="353.7" y2="353.7" stroke="#f0f0f0" stroke-width="1.1"/><line x1="244.0" x2="1019.8" y1="325.5" y2="325.5" stroke="#f0f0f0" stroke-width="1.1"/><line x1="244.0" x2="1019.8" y1="297.3" y2="297.3" stroke="#f0f0f0" stroke-width="1.1"/><line x1="244.0" x2="1019.8" y1="269.2" y2="269.2" stroke="#f0f0f0" stroke-width="1.1"/><line x1="244.0" x2="1019.8" y1="241.0" y2="241.0" stroke="#f0f0f0" stroke-width="1.1"/><line x1="244.0" x2="1019.8" y1="212.8" y2="212.8" stroke="#f0f0f0" stroke-width="1.1"/>
<line x1="328.7" x2="328.7" y1="212.8" y2="494.6" stroke="rgba(0,0,0,0.028)" stroke-width="2.4"/><line x1="420.9" x2="420.9" y1="212.8" y2="494.6" stroke="rgba(0,0,0,0.028)" stroke-width="2.4"/><line x1="515.2" x2="515.2" y1="212.8" y2="494.6" stroke="rgba(0,0,0,0.028)" stroke-width="2.4"/><line x1="610.4" x2="610.4" y1="212.8" y2="494.6" stroke="rgba(0,0,0,0.028)" stroke-width="2.4"/><line x1="705.6" x2="705.6" y1="212.8" y2="494.6" stroke="rgba(0,0,0,0.028)" stroke-width="2.4"/><line x1="798.8" x2="798.8" y1="212.8" y2="494.6" stroke="rgba(0,0,0,0.028)" stroke-width="2.4"/><line x1="892.8" x2="892.8" y1="212.8" y2="494.6" stroke="rgba(0,0,0,0.028)" stroke-width="2.4"/><line x1="987.5" x2="987.5" y1="212.8" y2="494.6" stroke="rgba(0,0,0,0.028)" stroke-width="2.4"/>
<polygon points="254.1,360.4 257.6,361.6 260.5,349.9 262.3,347.5 264.6,346.4 266.9,339.1 269.3,340.5 273.4,341.9 276.3,338.4 279.2,339.1 282.1,340.0 284.4,338.2 286.8,323.0 289.1,313.7 291.5,309.0 293.8,302.6 295.5,304.9 296.7,304.3 297.9,316.0 299.0,317.2 301.0,309.6 302.5,316.6 305.5,311.9 307.8,312.5 311.7,307.6 313.6,314.3 315.4,317.2 318.3,314.9 322.4,316.6 325.9,312.3 327.7,313.1 330.0,316.0 333.1,312.5 334.1,299.7 337.2,300.3 338.5,312.5 339.7,310.2 340.8,297.9 345.7,296.3 351.6,294.5 354.5,289.9 358.6,278.2 360.9,270.6 362.7,273.0 366.2,272.4 367.3,267.1 369.7,272.4 373.8,254.8 375.5,240.3 377.3,247.8 381.9,254.3 384.3,243.8 385.4,244.3 386.6,315.0 387.6,340.0 388.2,367.4 389.9,370.3 391.3,376.7 392.8,374.1 395.2,374.1 397.3,383.1 399.3,381.4 403.4,380.2 406.9,373.8 409.5,371.7 412.7,375.0 417.4,375.0 419.1,374.4 421.5,378.5 424.1,378.8 428.5,371.8 431.4,375.5 432.5,374.6 433.7,377.9 434.9,386.0 436.4,394.6 439.0,393.6 439.8,390.1 440.7,392.5 441.9,390.1 443.6,393.1 446.0,391.0 449.5,394.2 452.4,392.5 455.9,390.5 460.6,390.7 463.5,398.3 466.4,396.0 470.5,393.6 473.4,387.2 476.3,382.5 479.3,380.2 482.8,382.0 485.1,381.4 487.4,386.0 490.9,389.6 492.7,389.0 494.4,394.0 496.8,393.6 500.3,387.2 503.8,387.6 506.9,385.5 509.6,389.0 514.5,391.9 518.8,388.3 522.8,387.5 527.5,386.8 529.3,378.4 532.8,377.2 534.8,372.0 538.0,370.8 543.3,371.1 545.0,374.3 548.5,373.1 553.8,374.3 557.3,372.0 559.0,364.4 561.4,360.6 563.9,362.6 566.0,365.0 571.9,365.8 575.4,365.0 578.3,363.0 581.2,363.8 584.7,358.0 588.2,351.3 591.2,350.1 593.1,354.1 595.8,349.2 599.0,345.1 600.5,347.4 603.4,344.3 606.0,343.4 607.5,350.4 609.8,343.9 612.5,341.4 615.1,346.3 618.0,350.6 620.3,352.1 621.9,355.0 623.0,343.4 625.0,342.8 627.9,346.3 629.7,338.1 632.6,336.3 636.3,334.6 638.4,340.4 641.9,331.1 643.5,326.0 645.3,321.2 649.3,325.3 652.8,321.5 656.9,320.6 658.7,311.9 662.8,311.3 665.1,304.9 668.0,299.6 670.6,298.5 672.5,303.1 673.9,291.5 676.8,290.3 679.1,286.2 685.5,283.9 687.6,290.3 690.2,294.4 692.5,293.2 695.5,286.8 700.7,285.6 703.6,292.6 707.7,285.0 710.6,283.9 711.8,280.4 714.1,279.2 715.9,260.5 718.5,253.9 722.9,255.8 724.3,267.5 726.4,278.6 728.7,276.3 730.5,281.5 732.5,290.9 734.6,288.5 737.5,282.1 739.8,290.9 743.3,303.7 745.1,301.4 746.5,310.7 747.4,306.0 749.8,311.9 751.5,302.5 753.8,296.1 758.5,299.0 760.3,293.2 764.4,295.0 766.7,300.2 767.9,299.0 770.8,307.2 773.3,309.0 776.3,315.9 780.3,305.9 782.8,312.4 786.9,314.7 790.4,324.6 794.9,328.7 796.6,318.2 801.3,318.8 802.5,321.7 804.4,294.9 809.7,304.2 815.0,311.2 817.3,308.9 818.8,304.2 821.4,308.3 823.7,308.9 826.0,297.8 827.8,296.6 829.6,297.2 831.3,293.1 832.5,294.3 834.2,292.3 837.5,292.5 839.5,296.0 840.6,303.0 844.7,304.8 847.6,315.3 849.4,312.9 852.9,315.9 855.0,313.3 858.2,318.8 861.1,325.2 862.5,320.0 865.8,324.0 868.4,328.1 869.6,324.6 873.9,334.0 876.8,328.1 878.6,332.2 882.1,332.2 884.2,327.4 887.6,329.3 890.2,335.9 891.2,328.5 892.6,331.8 895.5,331.4 899.4,337.6 903.5,339.0 905.1,345.0 907.4,350.0 910.2,346.4 911.8,339.2 912.5,324.8 917.4,321.3 919.1,315.8 920.9,311.3 924.4,303.8 926.2,303.8 927.4,299.1 930.9,305.5 933.2,314.3 936.7,314.9 938.8,314.3 940.4,303.4 943.5,303.8 946.0,306.1 950.1,301.1 954.0,307.3 957.1,302.0 961.2,294.4 962.4,296.8 963.6,290.4 968.8,290.1 970.0,285.1 975.2,286.3 977.3,283.1 979.3,288.6 983.2,276.3 984.3,278.4 986.9,278.1 990.4,284.5 991.6,282.2 993.3,285.1 996.5,284.3 998.8,288.0 1000.0,283.4 1003.9,282.2 1006.0,285.1 1006.8,271.7 1008.2,269.3 1008.2,494.6 254.1,494.6" fill="rgba(228,112,98,0.6)"/>
<polyline points="254.1,360.4 257.6,361.6 260.5,349.9 262.3,347.5 264.6,346.4 266.9,339.1 269.3,340.5 273.4,341.9 276.3,338.4 279.2,339.1 282.1,340.0 284.4,338.2 286.8,323.0 289.1,313.7 291.5,309.0 293.8,302.6 295.5,304.9 296.7,304.3 297.9,316.0 299.0,317.2 301.0,309.6 302.5,316.6 305.5,311.9 307.8,312.5 311.7,307.6 313.6,314.3 315.4,317.2 318.3,314.9 322.4,316.6 325.9,312.3 327.7,313.1 330.0,316.0 333.1,312.5 334.1,299.7 337.2,300.3 338.5,312.5 339.7,310.2 340.8,297.9 345.7,296.3 351.6,294.5 354.5,289.9 358.6,278.2 360.9,270.6 362.7,273.0 366.2,272.4 367.3,267.1 369.7,272.4 373.8,254.8 375.5,240.3 377.3,247.8 381.9,254.3 384.3,243.8 385.4,244.3 386.6,315.0 387.6,340.0 388.2,367.4 389.9,370.3 391.3,376.7 392.8,374.1 395.2,374.1 397.3,383.1 399.3,381.4 403.4,380.2 406.9,373.8 409.5,371.7 412.7,375.0 417.4,375.0 419.1,374.4 421.5,378.5 424.1,378.8 428.5,371.8 431.4,375.5 432.5,374.6 433.7,377.9 434.9,386.0 436.4,394.6 439.0,393.6 439.8,390.1 440.7,392.5 441.9,390.1 443.6,393.1 446.0,391.0 449.5,394.2 452.4,392.5 455.9,390.5 460.6,390.7 463.5,398.3 466.4,396.0 470.5,393.6 473.4,387.2 476.3,382.5 479.3,380.2 482.8,382.0 485.1,381.4 487.4,386.0 490.9,389.6 492.7,389.0 494.4,394.0 496.8,393.6 500.3,387.2 503.8,387.6 506.9,385.5 509.6,389.0 514.5,391.9 518.8,388.3 522.8,387.5 527.5,386.8 529.3,378.4 532.8,377.2 534.8,372.0 538.0,370.8 543.3,371.1 545.0,374.3 548.5,373.1 553.8,374.3 557.3,372.0 559.0,364.4 561.4,360.6 563.9,362.6 566.0,365.0 571.9,365.8 575.4,365.0 578.3,363.0 581.2,363.8 584.7,358.0 588.2,351.3 591.2,350.1 593.1,354.1 595.8,349.2 599.0,345.1 600.5,347.4 603.4,344.3 606.0,343.4 607.5,350.4 609.8,343.9 612.5,341.4 615.1,346.3 618.0,350.6 620.3,352.1 621.9,355.0 623.0,343.4 625.0,342.8 627.9,346.3 629.7,338.1 632.6,336.3 636.3,334.6 638.4,340.4 641.9,331.1 643.5,326.0 645.3,321.2 649.3,325.3 652.8,321.5 656.9,320.6 658.7,311.9 662.8,311.3 665.1,304.9 668.0,299.6 670.6,298.5 672.5,303.1 673.9,291.5 676.8,290.3 679.1,286.2 685.5,283.9 687.6,290.3 690.2,294.4 692.5,293.2 695.5,286.8 700.7,285.6 703.6,292.6 707.7,285.0 710.6,283.9 711.8,280.4 714.1,279.2 715.9,260.5 718.5,253.9 722.9,255.8 724.3,267.5 726.4,278.6 728.7,276.3 730.5,281.5 732.5,290.9 734.6,288.5 737.5,282.1 739.8,290.9 743.3,303.7 745.1,301.4 746.5,310.7 747.4,306.0 749.8,311.9 751.5,302.5 753.8,296.1 758.5,299.0 760.3,293.2 764.4,295.0 766.7,300.2 767.9,299.0 770.8,307.2 773.3,309.0 776.3,315.9 780.3,305.9 782.8,312.4 786.9,314.7 790.4,324.6 794.9,328.7 796.6,318.2 801.3,318.8 802.5,321.7 804.4,294.9 809.7,304.2 815.0,311.2 817.3,308.9 818.8,304.2 821.4,308.3 823.7,308.9 826.0,297.8 827.8,296.6 829.6,297.2 831.3,293.1 832.5,294.3 834.2,292.3 837.5,292.5 839.5,296.0 840.6,303.0 844.7,304.8 847.6,315.3 849.4,312.9 852.9,315.9 855.0,313.3 858.2,318.8 861.1,325.2 862.5,320.0 865.8,324.0 868.4,328.1 869.6,324.6 873.9,334.0 876.8,328.1 878.6,332.2 882.1,332.2 884.2,327.4 887.6,329.3 890.2,335.9 891.2,328.5 892.6,331.8 895.5,331.4 899.4,337.6 903.5,339.0 905.1,345.0 907.4,350.0 910.2,346.4 911.8,339.2 912.5,324.8 917.4,321.3 919.1,315.8 920.9,311.3 924.4,303.8 926.2,303.8 927.4,299.1 930.9,305.5 933.2,314.3 936.7,314.9 938.8,314.3 940.4,303.4 943.5,303.8 946.0,306.1 950.1,301.1 954.0,307.3 957.1,302.0 961.2,294.4 962.4,296.8 963.6,290.4 968.8,290.1 970.0,285.1 975.2,286.3 977.3,283.1 979.3,288.6 983.2,276.3 984.3,278.4 986.9,278.1 990.4,284.5 991.6,282.2 993.3,285.1 996.5,284.3 998.8,288.0 1000.0,283.4 1003.9,282.2 1006.0,285.1 1006.8,271.7 1008.2,269.3" fill="none" stroke="rgba(222,110,98,0.75)" stroke-width="1"/>
<line x1="243.5" x2="1019.8" y1="494.90000000000003" y2="494.90000000000003" stroke="#8a8a8a" stroke-width="1"/>
<text x="240.6" y="498.5" text-anchor="end" class="ax">0</text><text x="240.6" y="470.3" text-anchor="end" class="ax">10</text><text x="240.6" y="442.1" text-anchor="end" class="ax">20</text><text x="240.6" y="414.0" text-anchor="end" class="ax">30</text><text x="240.6" y="385.8" text-anchor="end" class="ax">40</text><text x="240.6" y="357.6" text-anchor="end" class="ax">50</text><text x="240.6" y="329.4" text-anchor="end" class="ax">60</text><text x="240.6" y="301.2" text-anchor="end" class="ax">70</text><text x="240.6" y="273.1" text-anchor="end" class="ax">80</text><text x="240.6" y="244.9" text-anchor="end" class="ax">90</text><text x="240.6" y="216.7" text-anchor="end" class="ax">100</text>
<text x="328.3" y="513.2" text-anchor="middle" class="ax">2005</text><text x="420.5" y="513.2" text-anchor="middle" class="ax">Apr</text><text x="515.2" y="513.2" text-anchor="middle" class="ax">Jul</text><text x="610.2" y="513.2" text-anchor="middle" class="ax">Oct</text><text x="705.6" y="513.2" text-anchor="middle" class="ax">2006</text><text x="798.5" y="513.2" text-anchor="middle" class="ax">Apr</text><text x="892.8" y="513.2" text-anchor="middle" class="ax">Jul</text><text x="987.5" y="513.2" text-anchor="middle" class="ax">Oct</text>
<!-- mini -->
<rect x="244.3" y="518.0" width="774.0999999999999" height="1" fill="#e4e4e4"/>
<rect x="1017.9" y="518.5" width="1" height="61.299999999999955" fill="#ececec"/>
<g clip-path="url(#selc)" fill="rgba(228,112,98,0.6)" stroke="rgba(222,110,98,0.8)"><polygon stroke="none" points="250.3,569.5 250.7,569.2 252.6,565.7 254.0,566.9 258.1,566.9 260.8,566.3 265.1,564.0 268.0,562.0 270.6,560.1 271.8,561.0 272.1,572.7 276.0,576.0 282.0,578.6 287.9,578.8 290.8,576.0 293.7,578.3 296.6,577.4 299.6,578.0 303.1,575.1 307.7,573.3 313.6,571.8 319.4,569.8 325.2,567.8 329.9,565.1 333.4,564.2 335.7,564.0 339.3,561.6 341.0,561.6 343.3,564.0 346.3,565.7 349.8,564.8 353.8,566.9 357.4,565.7 360.3,565.9 363.8,564.8 368.4,567.5 373.1,569.2 377.2,569.2 379.1,571.3 382.3,565.9 384.0,566.9 387.5,565.5 393.4,563.4 399.2,562.8 402.7,562.0 409.1,560.1 412.0,561.0 413.8,562.2 415.8,560.5 417.3,558.7 419.0,561.6 422.5,561.6 428.4,560.5 433.1,559.3 437.7,559.6 443.6,555.8 449.4,552.9 452.9,553.1 457.6,550.5 463.4,554.3 466.9,551.7 469.3,551.1 473.9,547.6 479.2,545.3 481.5,548.2 486.8,545.3 490.6,544.5 493.8,545.9 495.5,547.0 497.3,552.3 502.0,554.0 506.6,553.1 511.7,549.9 519.3,545.6 525.1,545.9 529.2,547.0 532.7,546.4 537.4,549.4 540.3,546.2 543.8,547.6 548.5,552.9 551.4,559.6 553.1,557.0 554.9,558.7 556.6,556.6 560.7,561.0 564.8,558.5 568.3,561.0 570.6,559.9 573.6,562.2 577.7,557.8 580.6,559.9 583.5,560.5 588.7,555.8 595.7,552.9 598.7,553.5 602.8,550.8 607.4,551.7 613.3,548.8 619.1,547.6 625.5,545.9 631.9,544.1 633.5,545.3 637.0,543.5 641.7,544.9 645.8,543.3 648.1,542.6 654.5,544.9 661.5,541.8 670.9,538.6 676.7,540.0 683.1,537.9 688.4,539.4 693.1,539.1 697.1,540.6 702.4,537.1 709.4,535.4 715.2,535.4 722.2,533.9 725.2,533.6 732.8,532.8 739.8,533.3 746.8,533.6 753.8,533.6 759.6,534.8 764.3,531.9 767.6,530.1 772.8,532.4 779.3,529.9 782.8,531.9 784.8,529.3 790.4,530.9 795.0,531.3 799.7,530.4 802.6,529.5 806.1,528.9 811.4,524.8 817.2,522.3 821.9,520.8 826.6,523.1 831.2,523.7 839.4,522.7 846.4,521.9 852.2,519.6 856.9,518.8 862.8,521.1 868.6,524.3 872.1,522.7 877.4,525.4 879.7,524.3 886.1,527.2 893.1,528.9 895.8,527.2 901.7,530.1 905.2,527.2 911.0,527.8 916.9,530.4 922.7,527.8 927.4,526.0 934.4,526.6 941.4,524.6 947.2,524.8 950.7,523.3 954.6,523.3 957.5,523.7 961.8,526.0 965.9,523.9 971.7,524.3 977.6,524.6 981.1,522.5 985.8,521.9 989.0,520.8 989.8,522.5 990.7,559.9 995.1,559.3 1000.9,558.5 1006.8,557.5 1012.6,558.1 1018.2,558.5 1018.2,579.8 250.3,579.8"/><polyline points="250.3,569.5 250.7,569.2 252.6,565.7 254.0,566.9 258.1,566.9 260.8,566.3 265.1,564.0 268.0,562.0 270.6,560.1 271.8,561.0 272.1,572.7 276.0,576.0 282.0,578.6 287.9,578.8 290.8,576.0 293.7,578.3 296.6,577.4 299.6,578.0 303.1,575.1 307.7,573.3 313.6,571.8 319.4,569.8 325.2,567.8 329.9,565.1 333.4,564.2 335.7,564.0 339.3,561.6 341.0,561.6 343.3,564.0 346.3,565.7 349.8,564.8 353.8,566.9 357.4,565.7 360.3,565.9 363.8,564.8 368.4,567.5 373.1,569.2 377.2,569.2 379.1,571.3 382.3,565.9 384.0,566.9 387.5,565.5 393.4,563.4 399.2,562.8 402.7,562.0 409.1,560.1 412.0,561.0 413.8,562.2 415.8,560.5 417.3,558.7 419.0,561.6 422.5,561.6 428.4,560.5 433.1,559.3 437.7,559.6 443.6,555.8 449.4,552.9 452.9,553.1 457.6,550.5 463.4,554.3 466.9,551.7 469.3,551.1 473.9,547.6 479.2,545.3 481.5,548.2 486.8,545.3 490.6,544.5 493.8,545.9 495.5,547.0 497.3,552.3 502.0,554.0 506.6,553.1 511.7,549.9 519.3,545.6 525.1,545.9 529.2,547.0 532.7,546.4 537.4,549.4 540.3,546.2 543.8,547.6 548.5,552.9 551.4,559.6 553.1,557.0 554.9,558.7 556.6,556.6 560.7,561.0 564.8,558.5 568.3,561.0 570.6,559.9 573.6,562.2 577.7,557.8 580.6,559.9 583.5,560.5 588.7,555.8 595.7,552.9 598.7,553.5 602.8,550.8 607.4,551.7 613.3,548.8 619.1,547.6 625.5,545.9 631.9,544.1 633.5,545.3 637.0,543.5 641.7,544.9 645.8,543.3 648.1,542.6 654.5,544.9 661.5,541.8 670.9,538.6 676.7,540.0 683.1,537.9 688.4,539.4 693.1,539.1 697.1,540.6 702.4,537.1 709.4,535.4 715.2,535.4 722.2,533.9 725.2,533.6 732.8,532.8 739.8,533.3 746.8,533.6 753.8,533.6 759.6,534.8 764.3,531.9 767.6,530.1 772.8,532.4 779.3,529.9 782.8,531.9 784.8,529.3 790.4,530.9 795.0,531.3 799.7,530.4 802.6,529.5 806.1,528.9 811.4,524.8 817.2,522.3 821.9,520.8 826.6,523.1 831.2,523.7 839.4,522.7 846.4,521.9 852.2,519.6 856.9,518.8 862.8,521.1 868.6,524.3 872.1,522.7 877.4,525.4 879.7,524.3 886.1,527.2 893.1,528.9 895.8,527.2 901.7,530.1 905.2,527.2 911.0,527.8 916.9,530.4 922.7,527.8 927.4,526.0 934.4,526.6 941.4,524.6 947.2,524.8 950.7,523.3 954.6,523.3 957.5,523.7 961.8,526.0 965.9,523.9 971.7,524.3 977.6,524.6 981.1,522.5 985.8,521.9 989.0,520.8 989.8,522.5 990.7,559.9 995.1,559.3 1000.9,558.5 1006.8,557.5 1012.6,558.1 1018.2,558.5" fill="none" stroke-width="0.9"/></g>
<g clip-path="url(#unsel)" fill="#d2928c" stroke="#b9736d"><polygon stroke="none" points="250.3,569.5 250.7,569.2 252.6,565.7 254.0,566.9 258.1,566.9 260.8,566.3 265.1,564.0 268.0,562.0 270.6,560.1 271.8,561.0 272.1,572.7 276.0,576.0 282.0,578.6 287.9,578.8 290.8,576.0 293.7,578.3 296.6,577.4 299.6,578.0 303.1,575.1 307.7,573.3 313.6,571.8 319.4,569.8 325.2,567.8 329.9,565.1 333.4,564.2 335.7,564.0 339.3,561.6 341.0,561.6 343.3,564.0 346.3,565.7 349.8,564.8 353.8,566.9 357.4,565.7 360.3,565.9 363.8,564.8 368.4,567.5 373.1,569.2 377.2,569.2 379.1,571.3 382.3,565.9 384.0,566.9 387.5,565.5 393.4,563.4 399.2,562.8 402.7,562.0 409.1,560.1 412.0,561.0 413.8,562.2 415.8,560.5 417.3,558.7 419.0,561.6 422.5,561.6 428.4,560.5 433.1,559.3 437.7,559.6 443.6,555.8 449.4,552.9 452.9,553.1 457.6,550.5 463.4,554.3 466.9,551.7 469.3,551.1 473.9,547.6 479.2,545.3 481.5,548.2 486.8,545.3 490.6,544.5 493.8,545.9 495.5,547.0 497.3,552.3 502.0,554.0 506.6,553.1 511.7,549.9 519.3,545.6 525.1,545.9 529.2,547.0 532.7,546.4 537.4,549.4 540.3,546.2 543.8,547.6 548.5,552.9 551.4,559.6 553.1,557.0 554.9,558.7 556.6,556.6 560.7,561.0 564.8,558.5 568.3,561.0 570.6,559.9 573.6,562.2 577.7,557.8 580.6,559.9 583.5,560.5 588.7,555.8 595.7,552.9 598.7,553.5 602.8,550.8 607.4,551.7 613.3,548.8 619.1,547.6 625.5,545.9 631.9,544.1 633.5,545.3 637.0,543.5 641.7,544.9 645.8,543.3 648.1,542.6 654.5,544.9 661.5,541.8 670.9,538.6 676.7,540.0 683.1,537.9 688.4,539.4 693.1,539.1 697.1,540.6 702.4,537.1 709.4,535.4 715.2,535.4 722.2,533.9 725.2,533.6 732.8,532.8 739.8,533.3 746.8,533.6 753.8,533.6 759.6,534.8 764.3,531.9 767.6,530.1 772.8,532.4 779.3,529.9 782.8,531.9 784.8,529.3 790.4,530.9 795.0,531.3 799.7,530.4 802.6,529.5 806.1,528.9 811.4,524.8 817.2,522.3 821.9,520.8 826.6,523.1 831.2,523.7 839.4,522.7 846.4,521.9 852.2,519.6 856.9,518.8 862.8,521.1 868.6,524.3 872.1,522.7 877.4,525.4 879.7,524.3 886.1,527.2 893.1,528.9 895.8,527.2 901.7,530.1 905.2,527.2 911.0,527.8 916.9,530.4 922.7,527.8 927.4,526.0 934.4,526.6 941.4,524.6 947.2,524.8 950.7,523.3 954.6,523.3 957.5,523.7 961.8,526.0 965.9,523.9 971.7,524.3 977.6,524.6 981.1,522.5 985.8,521.9 989.0,520.8 989.8,522.5 990.7,559.9 995.1,559.3 1000.9,558.5 1006.8,557.5 1012.6,558.1 1018.2,558.5 1018.2,579.8 250.3,579.8"/><polyline points="250.3,569.5 250.7,569.2 252.6,565.7 254.0,566.9 258.1,566.9 260.8,566.3 265.1,564.0 268.0,562.0 270.6,560.1 271.8,561.0 272.1,572.7 276.0,576.0 282.0,578.6 287.9,578.8 290.8,576.0 293.7,578.3 296.6,577.4 299.6,578.0 303.1,575.1 307.7,573.3 313.6,571.8 319.4,569.8 325.2,567.8 329.9,565.1 333.4,564.2 335.7,564.0 339.3,561.6 341.0,561.6 343.3,564.0 346.3,565.7 349.8,564.8 353.8,566.9 357.4,565.7 360.3,565.9 363.8,564.8 368.4,567.5 373.1,569.2 377.2,569.2 379.1,571.3 382.3,565.9 384.0,566.9 387.5,565.5 393.4,563.4 399.2,562.8 402.7,562.0 409.1,560.1 412.0,561.0 413.8,562.2 415.8,560.5 417.3,558.7 419.0,561.6 422.5,561.6 428.4,560.5 433.1,559.3 437.7,559.6 443.6,555.8 449.4,552.9 452.9,553.1 457.6,550.5 463.4,554.3 466.9,551.7 469.3,551.1 473.9,547.6 479.2,545.3 481.5,548.2 486.8,545.3 490.6,544.5 493.8,545.9 495.5,547.0 497.3,552.3 502.0,554.0 506.6,553.1 511.7,549.9 519.3,545.6 525.1,545.9 529.2,547.0 532.7,546.4 537.4,549.4 540.3,546.2 543.8,547.6 548.5,552.9 551.4,559.6 553.1,557.0 554.9,558.7 556.6,556.6 560.7,561.0 564.8,558.5 568.3,561.0 570.6,559.9 573.6,562.2 577.7,557.8 580.6,559.9 583.5,560.5 588.7,555.8 595.7,552.9 598.7,553.5 602.8,550.8 607.4,551.7 613.3,548.8 619.1,547.6 625.5,545.9 631.9,544.1 633.5,545.3 637.0,543.5 641.7,544.9 645.8,543.3 648.1,542.6 654.5,544.9 661.5,541.8 670.9,538.6 676.7,540.0 683.1,537.9 688.4,539.4 693.1,539.1 697.1,540.6 702.4,537.1 709.4,535.4 715.2,535.4 722.2,533.9 725.2,533.6 732.8,532.8 739.8,533.3 746.8,533.6 753.8,533.6 759.6,534.8 764.3,531.9 767.6,530.1 772.8,532.4 779.3,529.9 782.8,531.9 784.8,529.3 790.4,530.9 795.0,531.3 799.7,530.4 802.6,529.5 806.1,528.9 811.4,524.8 817.2,522.3 821.9,520.8 826.6,523.1 831.2,523.7 839.4,522.7 846.4,521.9 852.2,519.6 856.9,518.8 862.8,521.1 868.6,524.3 872.1,522.7 877.4,525.4 879.7,524.3 886.1,527.2 893.1,528.9 895.8,527.2 901.7,530.1 905.2,527.2 911.0,527.8 916.9,530.4 922.7,527.8 927.4,526.0 934.4,526.6 941.4,524.6 947.2,524.8 950.7,523.3 954.6,523.3 957.5,523.7 961.8,526.0 965.9,523.9 971.7,524.3 977.6,524.6 981.1,522.5 985.8,521.9 989.0,520.8 989.8,522.5 990.7,559.9 995.1,559.3 1000.9,558.5 1006.8,557.5 1012.6,558.1 1018.2,558.5" fill="none" stroke-width="0.9"/></g>
<rect x="258.8" y="519.5" width="1.7" height="60.3" fill="rgba(255,255,255,0.86)"/><rect x="336.1" y="519.5" width="1.7" height="60.3" fill="rgba(255,255,255,0.86)"/><rect x="413.8" y="519.5" width="1.7" height="60.3" fill="rgba(255,255,255,0.86)"/><rect x="491.0" y="519.5" width="1.7" height="60.3" fill="rgba(255,255,255,0.86)"/><rect x="568.6" y="519.5" width="1.7" height="60.3" fill="rgba(255,255,255,0.86)"/><rect x="645.9" y="519.5" width="1.7" height="60.3" fill="rgba(255,255,255,0.86)"/><rect x="722.9" y="519.5" width="1.7" height="60.3" fill="rgba(255,255,255,0.86)"/><rect x="800.2" y="519.5" width="1.7" height="60.3" fill="rgba(255,255,255,0.86)"/><rect x="877.8" y="519.5" width="1.7" height="60.3" fill="rgba(255,255,255,0.86)"/><rect x="955.0" y="519.5" width="1.7" height="60.3" fill="rgba(255,255,255,0.86)"/>
<text x="262.8" y="576.4" class="mx">2005</text><text x="340.2" y="576.4" class="mx">2006</text><text x="417.8" y="576.4" class="mx">2007</text><text x="495.1" y="576.4" class="mx">2008</text><text x="572.7" y="576.4" class="mx">2009</text><text x="650.0" y="576.4" class="mx">2010</text><text x="726.9" y="576.4" class="mx">2011</text><text x="804.3" y="576.4" class="mx">2012</text><text x="881.8" y="576.4" class="mx">2013</text><text x="959.1" y="576.4" class="mx">2014</text>
<!-- handles -->
<rect x="244.3" y="518.5" width="5.8" height="61.299999999999955" fill="#e6e6e6"/>
<rect x="244.3" y="537" width="5.8" height="25.2" fill="#c6c6c6"/>
<path d="M245.2 549.6L249 547V552.2Z" fill="#555"/>
<rect x="402.9" y="518.5" width="5.8" height="61.299999999999955" fill="#e6e6e6"/>
<rect x="402.9" y="537" width="5.8" height="25.2" fill="#c6c6c6"/>
<path d="M407.7 549.6L403.9 547V552.2Z" fill="#555"/>
<!-- scrollbar -->
<rect x="244.3" y="581.2" width="774.0999999999999" height="8.2" fill="#ebebeb"/>
<rect x="255.2" y="583.1" width="150.5" height="4.6" fill="#707070"/>
<path d="M250.6 583L248.4 585.4L250.6 587.8" fill="none" stroke="#555" stroke-width="1"/>
<path d="M1013 583L1015.2 585.4L1013 587.8" fill="none" stroke="#555" stroke-width="1"/>
</svg>
</div></div>
</body></html>
